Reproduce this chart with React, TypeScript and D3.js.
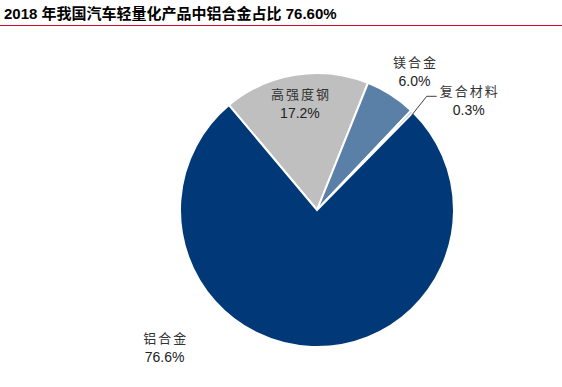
import React from 'react';
import * as d3 from 'd3';

const title = '2018 年我国汽车轻量化产品中铝合金占比 76.60%';
const categories = ['高强度钢', '镁合金', '复合材料', '铝合金'];
const shares = [17.2, 6.0, 0.3, 76.6];
const colors = ['#BFBFBF', '#5B80A8', '#1F3F73', '#003878'];

const width = 562;
const height = 387;
const cx = 317;
const cy = 210;
const R = 137;

const deg = (d: number) => (d * Math.PI) / 180;

// label placement per slice: [radius, angle override (deg) or null]
const labelSpots: [number, number | null][] = [
  [108, null],
  [170, 35],
  [0, null],
  [205, 228],
];

const polar = (r: number, a: number): [number, number] => [
  cx + r * Math.sin(a),
  cy - r * Math.cos(a),
];

const cnFont = "'Noto Sans CJK SC', sans-serif";
const numFont = "'Liberation Sans', Arial, sans-serif";

const Label: React.FC<{ x: number; y: number; name: string; pct: string }> = ({ x, y, name, pct }) => (
  <g>
    <text
      x={x + 1}
      y={y - 4}
      textAnchor="middle"
      fontFamily={cnFont}
      fontSize={13}
      letterSpacing={2}
      fill="#333"
    >
      {name}
    </text>
    <text x={x} y={y + 15} textAnchor="middle" fontFamily={numFont} fontSize={14} fill="#222">
      {pct}
    </text>
  </g>
);

const App: React.FC = () => {
  const pie = d3
    .pie<number>()
    .sort(null)
    .value((d) => d)
    .startAngle(deg(-40))
    .endAngle(deg(320));
  const arcs = pie(shares);
  const arc = d3.arc<d3.PieArcDatum<number>>().innerRadius(0).outerRadius(R);

  return (
    <svg
      width={width}
      height={height}
      style={{ position: 'absolute', left: 0, top: 0, background: '#fff' }}
    >
      <text
        x={4}
        y={19}
        fontFamily="'Liberation Sans', 'Noto Sans CJK SC', sans-serif"
        fontSize={15}
        fontWeight="bold"
        fill="#000"
      >
        {title}
      </text>
      <line x1={0} x2={width} y1={25.5} y2={25.5} stroke="#C8102E" strokeWidth={1} />

      <g transform={`translate(${cx},${cy})`}>
        {arcs.map((a, i) => (
          <path key={i} d={arc(a) || ''} fill={colors[i]} stroke="#fff" strokeWidth={2} />
        ))}
      </g>

      {arcs.map((a, i) => {
        const mid = (a.startAngle + a.endAngle) / 2;
        const pct = shares[i].toFixed(1) + '%';
        if (i === 2) {
          // small slice: leader line
          const [x0, y0] = polar(R - 3, mid + deg(1));
          const [x1, y1] = polar(158, mid);
          const x2 = x1 + 10;
          return (
            <g key={i}>
              <polyline
                points={`${x0},${y0} ${x1},${y1} ${x2},${y1}`}
                fill="none"
                stroke="#404040"
                strokeWidth={1}
              />
              <Label x={x2 + 32} y={y1 + 4} name={categories[i]} pct={pct} />
            </g>
          );
        }
        const [r, over] = labelSpots[i];
        const [lx, ly] = polar(r, over === null ? mid : deg(over));
        return <Label key={i} x={lx} y={ly} name={categories[i]} pct={pct} />;
      })}
    </svg>
  );
};

export default App;
